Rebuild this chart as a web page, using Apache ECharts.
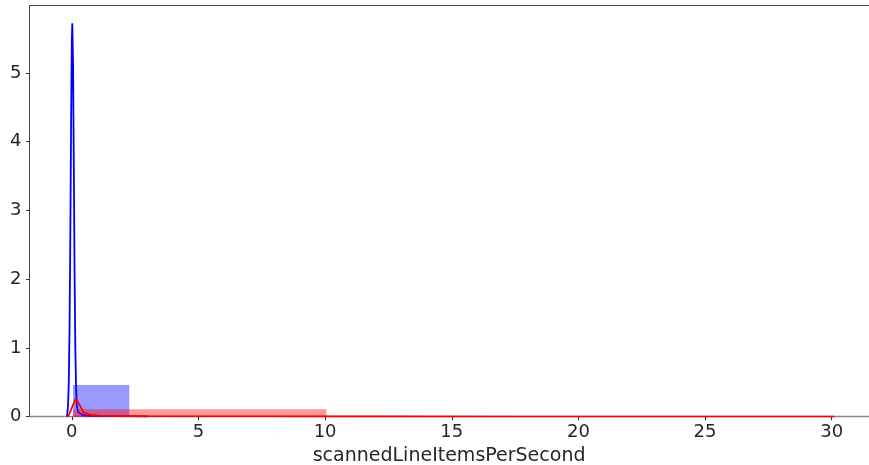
<!DOCTYPE html>
<html>
<head>
<meta charset="utf-8">
<script src="https://cdn.jsdelivr.net/npm/echarts@6/dist/echarts.min.js"></script>
<style>
html,body{margin:0;padding:0;background:#fff;}
#c{width:869px;height:465px;}
</style>
</head>
<body>
<div id="c"></div>
<script>
// Tick labels
var xTicks = [0, 5, 10, 15, 20, 25, 30];
var yTicks = [0, 1, 2, 3, 4, 5];
var xName = 'scannedLineItemsPerSecond';

// Histograms: bin edges and densities
var blueEdges = [0.05, 2.27];
var blueHeights = [0.46];
var redEdges = [0.05, 10.05, 20.05, 30.05];
var redHeights = [0.11, 0.0, 0.0];

// KDE curves
var blueKdeX = [-0.19, -0.15, -0.12, -0.09, -0.06, -0.03, 0.0, 0.02, 0.05, 0.08, 0.11, 0.14, 0.17, 0.2, 0.25, 0.3, 0.4, 0.55, 0.8, 1.2, 1.8, 2.5, 3.0];
var blueKdeY = [0.0, 0.15, 0.48, 1.25, 2.55, 4.17, 5.44, 5.72, 5.11, 3.64, 2.06, 0.98, 0.39, 0.15, 0.07, 0.05, 0.03, 0.02, 0.012, 0.01, 0.008, 0.004, 0.0];
var redKdeX = [-0.146, 0.16, 0.46, 0.77, 1.07, 1.4, 2.0, 3.0, 5, 8, 12, 18, 25, 30.1];
var redKdeY = [0.0, 0.267, 0.065, 0.025, 0.015, 0.012, 0.01, 0.008, 0.006, 0.004, 0.003, 0.002, 0.001, 0.0];

function pairs(xs, ys) { return xs.map(function (x, i) { return [x, ys[i]]; }); }
function bins(edges, h) { return h.map(function (v, i) { return [edges[i], edges[i + 1], v]; }); }

function histRender(color) {
  return function (params, api) {
    var p0 = api.coord([api.value(0), api.value(2)]);
    var p1 = api.coord([api.value(1), 0]);
    return {
      type: 'rect',
      shape: { x: p0[0], y: p0[1], width: p1[0] - p0[0], height: p1[1] - p0[1] },
      style: { fill: color }
    };
  };
}

var FONT = 'DejaVu Sans';
var chart = echarts.init(document.getElementById('c'), null, { renderer: 'canvas' });
chart.setOption({
  animation: false,
  backgroundColor: '#ffffff',
  grid: { left: 29.5, right: 0.3, top: 5.5, bottom: 48.3, containLabel: false, outerBoundsMode: 'none' },
  xAxis: [{
    type: 'value', min: -1.67, max: 31.46,
    splitLine: { show: false },
    axisLine: { show: true, onZero: false, lineStyle: { color: '#8a8a8a', width: 1.3 } },
    axisTick: { show: true, length: 3.5, customValues: xTicks, lineStyle: { color: '#333' } },
    axisLabel: { customValues: xTicks, fontSize: 18, fontFamily: FONT, color: '#262626', margin: 7 },
    name: xName, nameLocation: 'middle', nameGap: 27,
    nameTextStyle: { fontSize: 19, fontFamily: FONT, color: '#262626', verticalAlign: 'top' }
  }, {
    type: 'value', position: 'top', min: -1.67, max: 31.46,
    splitLine: { show: false },
    axisLine: { show: true, onZero: false, lineStyle: { color: '#444', width: 1 } },
    axisTick: { show: false }, axisLabel: { show: false }
  }],
  yAxis: [{
    type: 'value', min: 0, max: 5.98,
    splitLine: { show: false },
    axisLine: { show: true, onZero: false, lineStyle: { color: '#444', width: 1 } },
    axisTick: { show: true, length: 3.5, customValues: yTicks, lineStyle: { color: '#333' } },
    axisLabel: { customValues: yTicks, fontSize: 18, fontFamily: FONT, color: '#262626', margin: 8 }
  }],
  series: [
    { type: 'custom', renderItem: histRender('rgba(0,0,255,0.4)'), encode: { x: [0, 1], y: 2 }, data: bins(blueEdges, blueHeights), z: 1 },
    { type: 'line', data: pairs(blueKdeX, blueKdeY), showSymbol: false, symbol: 'none', lineStyle: { color: '#0000ff', width: 1.8 }, z: 2 },
    { type: 'custom', renderItem: histRender('rgba(255,0,0,0.4)'), encode: { x: [0, 1], y: 2 }, data: bins(redEdges, redHeights), z: 3 },
    { type: 'line', data: pairs(redKdeX, redKdeY), showSymbol: false, symbol: 'none', lineStyle: { color: '#ff0000', width: 1.8 }, z: 4 }
  ]
});
</script>
</body>
</html>
